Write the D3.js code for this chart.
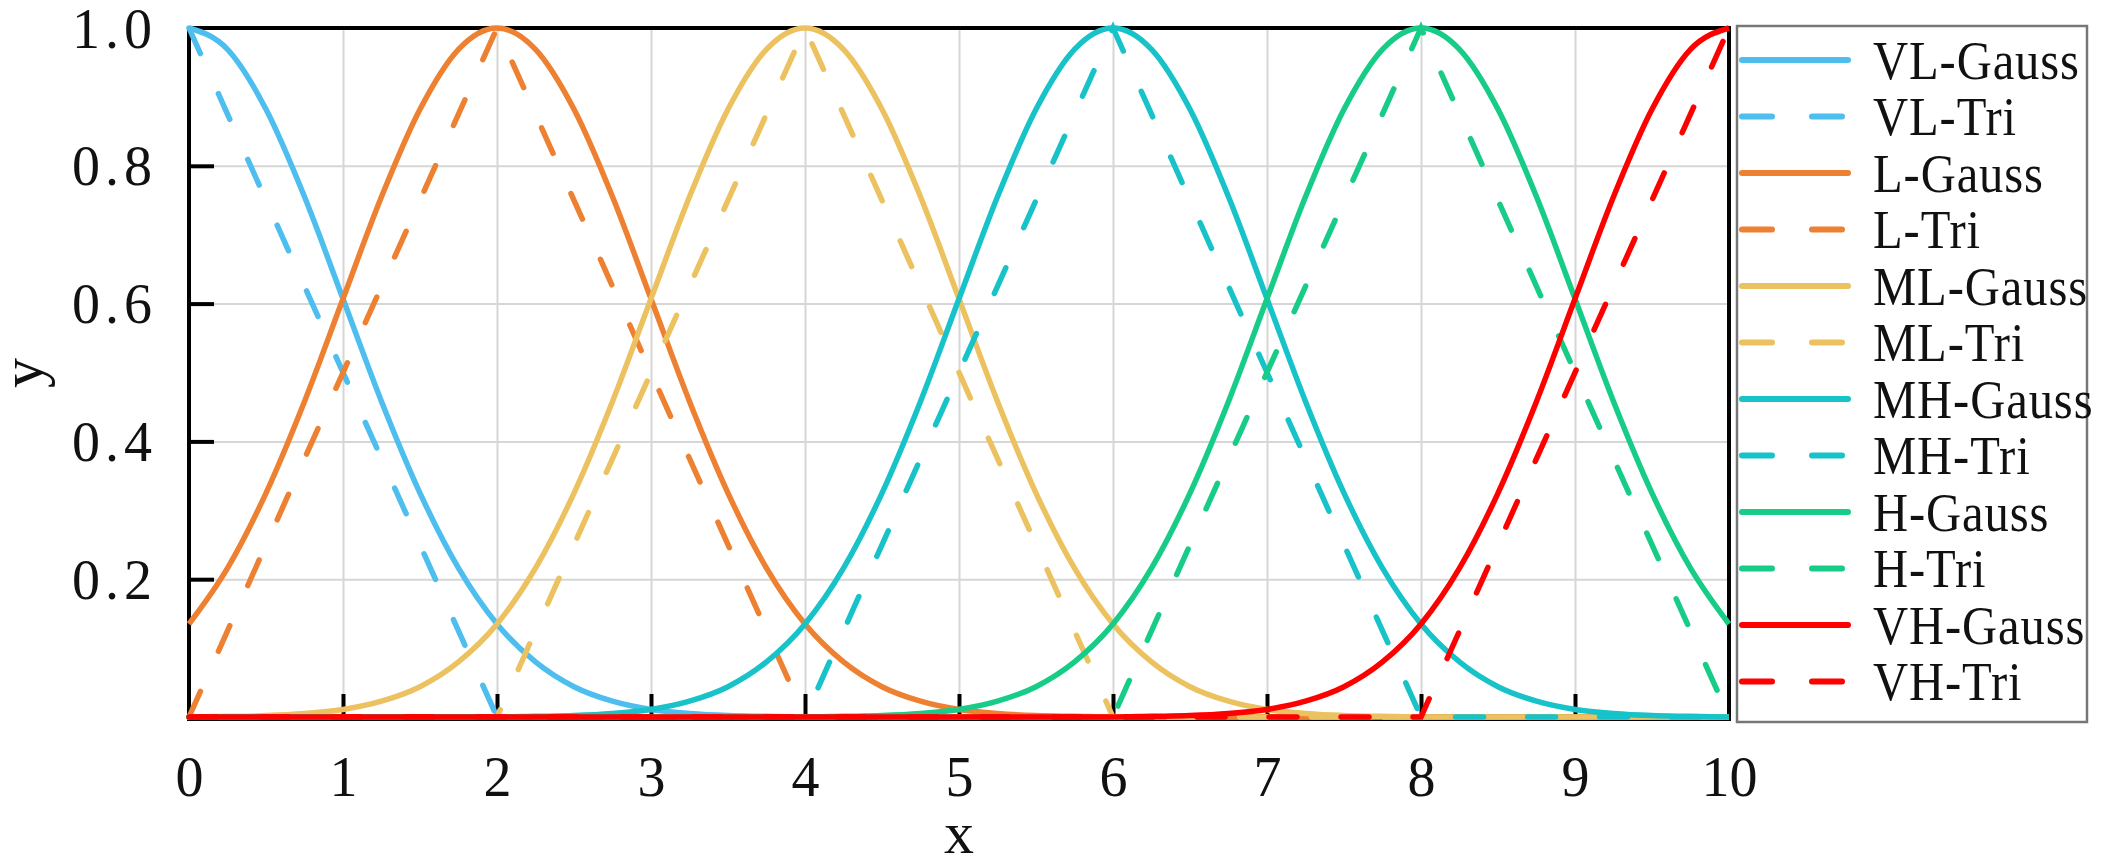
<!DOCTYPE html>
<html>
<head>
<meta charset="utf-8">
<script src="https://cdn.jsdelivr.net/npm/d3@7"></script>
<style>
  body { margin: 0; background: #fff; }
  text { font-family: "Liberation Serif", "DejaVu Serif", serif; fill: #111; }
</style>
</head>
<body>
<div id="chart"></div>
<script>
// Membership functions
// ===========================================

// sample positions along x for the smooth (gauss) curves
var xs = [0, 0.25, 0.5, 0.75, 1, 1.25, 1.5, 1.75, 2, 2.25, 2.5, 2.75, 3, 3.25, 3.5, 3.75,
          4, 4.25, 4.5, 4.75, 5, 5.25, 5.5, 5.75, 6, 6.25, 6.5, 6.75, 7, 7.25, 7.5, 7.75,
          8, 8.25, 8.5, 8.75, 9, 9.25, 9.5, 9.75, 10];

var vlGauss = [1, .969, .882, .755, .607, .458, .325, .216, .135, .080, .044, .023, .011, .005, .002, .001,
               0, 0, 0, 0, 0, 0, 0, 0, 0, 0, 0, 0, 0, 0, 0, 0,
               0, 0, 0, 0, 0, 0, 0, 0, 0];
var lGauss = [.135, .216, .325, .458, .607, .755, .882, .969, 1, .969, .882, .755, .607, .458, .325, .216,
              .135, .080, .044, .023, .011, .005, .002, .001, 0, 0, 0, 0, 0, 0, 0, 0,
              0, 0, 0, 0, 0, 0, 0, 0, 0];
var mlGauss = [0, .001, .002, .005, .011, .023, .044, .080, .135, .216, .325, .458, .607, .755, .882, .969,
               1, .969, .882, .755, .607, .458, .325, .216, .135, .080, .044, .023, .011, .005, .002, .001,
               0, 0, 0, 0, 0, 0, 0, 0, 0];
var mhGauss = [0, 0, 0, 0, 0, 0, 0, 0, 0, .001, .002, .005, .011, .023, .044, .080,
               .135, .216, .325, .458, .607, .755, .882, .969, 1, .969, .882, .755, .607, .458, .325, .216,
               .135, .080, .044, .023, .011, .005, .002, .001, 0];
var hGauss = [0, 0, 0, 0, 0, 0, 0, 0, 0, 0, 0, 0, 0, 0, 0, 0,
              0, .001, .002, .005, .011, .023, .044, .080, .135, .216, .325, .458, .607, .755, .882, .969,
              1, .969, .882, .755, .607, .458, .325, .216, .135];
var vhGauss = [0, 0, 0, 0, 0, 0, 0, 0, 0, 0, 0, 0, 0, 0, 0, 0,
               0, 0, 0, 0, 0, 0, 0, 0, 0, .001, .002, .005, .011, .023, .044, .080,
               .135, .216, .325, .458, .607, .755, .882, .969, 1];

// triangle corners: [x values], [y values]
var vlTriX = [0, 2, 10],          vlTriY = [1, 0, 0];
var lTriX  = [0, 2, 4, 10],       lTriY  = [0, 1, 0, 0];
var mlTriX = [0, 2, 4, 6, 10],    mlTriY = [0, 0, 1, 0, 0];
var mhTriX = [0, 4, 6, 8, 10],    mhTriY = [0, 0, 1, 0, 0];
var hTriX  = [0, 6, 8, 10],       hTriY  = [0, 0, 1, 0];
var vhTriX = [0, 8, 10],          vhTriY = [0, 0, 1];

var seriesNames = ["VL-Gauss", "VL-Tri", "L-Gauss", "L-Tri", "ML-Gauss", "ML-Tri",
                   "MH-Gauss", "MH-Tri", "H-Gauss", "H-Tri", "VH-Gauss", "VH-Tri"];

var xTicks = [0, 1, 2, 3, 4, 5, 6, 7, 8, 9, 10];
var yTicks = [0.2, 0.4, 0.6, 0.8, 1.0];

// colours per level
var colors = ["#4dbeee", "#ee8031", "#ecc261", "#17c3c8", "#17cc87", "#ff0000"];

// Setup
// ===========================================
var width = 2102, height = 866;
var plot = { left: 189, right: 1729, top: 28, bottom: 717 };

var svg = d3.select("#chart").append("svg")
  .attr("width", width)
  .attr("height", height);

svg.append("rect").attr("width", width).attr("height", height).attr("fill", "#fff");

var x = d3.scaleLinear().domain([0, 10]).range([plot.left, plot.right]);
var y = d3.scaleLinear().domain([0, 1]).range([plot.bottom, plot.top]);

// grid lines
var gx = svg.append("g")
  .attr("transform", `translate(0, ${plot.bottom})`)
  .call(d3.axisBottom(x).tickValues(xTicks).tickSize(-(plot.bottom - plot.top)).tickFormat(""));
var gy = svg.append("g")
  .attr("transform", `translate(${plot.left}, 0)`)
  .call(d3.axisLeft(y).tickValues([0.2, 0.4, 0.6, 0.8]).tickSize(-(plot.right - plot.left)).tickFormat(""));
[gx, gy].forEach(function(g) {
  g.select(".domain").remove();
  g.selectAll("line").attr("stroke", "#d6d6d6").attr("stroke-width", 2);
});

// axes with inward ticks
var xAxis = svg.append("g")
  .attr("transform", `translate(0, ${plot.bottom})`)
  .call(d3.axisBottom(x).tickValues(xTicks).tickSizeInner(-23).tickSizeOuter(0).tickPadding(39));
var yAxis = svg.append("g")
  .attr("transform", `translate(${plot.left}, 0)`)
  .call(d3.axisLeft(y).tickValues(yTicks).tickSizeInner(-25).tickSizeOuter(0).tickPadding(32)
    .tickFormat(d3.format(".1f")));
[xAxis, yAxis].forEach(function(g) {
  g.select(".domain").remove();
  g.selectAll("line").attr("stroke", "#000").attr("stroke-width", 4);
  g.selectAll("text")
    .attr("font-family", "Liberation Serif, serif")
    .attr("font-size", 56)
    .attr("fill", "#111");
});
xAxis.selectAll(".tick line").filter(function(d) { return d === 0 || d === 10; }).remove();
yAxis.selectAll(".tick line").filter(function(d) { return d === 1; }).remove();
yAxis.selectAll("text").attr("letter-spacing", 5).attr("dy", "0.34em");

// box around the plot
svg.append("rect")
  .attr("x", plot.left).attr("y", plot.top)
  .attr("width", plot.right - plot.left)
  .attr("height", plot.bottom - plot.top + 2)
  .attr("fill", "none")
  .attr("stroke", "#000")
  .attr("stroke-width", 4);

// axis titles
svg.append("text")
  .attr("x", x(5)).attr("y", 853)
  .attr("text-anchor", "middle")
  .attr("font-size", 60)
  .text("x");
svg.append("text")
  .attr("transform", "translate(42, 373) rotate(-90)")
  .attr("text-anchor", "middle")
  .attr("font-size", 60)
  .text("y");

// Curves
// ===========================================
var gaussSets = [vlGauss, lGauss, mlGauss, mhGauss, hGauss, vhGauss];
var triSets = [[vlTriX, vlTriY], [lTriX, lTriY], [mlTriX, mlTriY],
               [mhTriX, mhTriY], [hTriX, hTriY], [vhTriX, vhTriY]];

var smooth = d3.line()
  .x(function(d) { return x(d[0]); })
  .y(function(d) { return y(d[1]); })
  .curve(d3.curveMonotoneX);
var straight = d3.line()
  .x(function(d) { return x(d[0]); })
  .y(function(d) { return y(d[1]); });

var lines = svg.append("g");
gaussSets.forEach(function(vals, i) {
  var pts = xs.map(function(v, k) { return [v, vals[k]]; });
  lines.append("path")
    .attr("d", smooth(pts))
    .attr("fill", "none")
    .attr("stroke", colors[i])
    .attr("stroke-width", 5.5)
    .attr("stroke-linejoin", "round");

  var tx = triSets[i][0], ty = triSets[i][1];
  var tpts = tx.map(function(v, k) { return [v, ty[k]]; });
  lines.append("path")
    .attr("d", straight(tpts))
    .attr("fill", "none")
    .attr("stroke", colors[i])
    .attr("stroke-width", 5.5)
    .attr("stroke-linecap", "round")
    .attr("stroke-dasharray", "28 44");
});

// Legend
// ===========================================
var legend = svg.append("g");
legend.append("rect")
  .attr("x", 1737).attr("y", 26)
  .attr("width", 350).attr("height", 696)
  .attr("fill", "#fff")
  .attr("stroke", "#777")
  .attr("stroke-width", 2.5);

seriesNames.forEach(function(name, i) {
  var ly = 60 + i * 56.5;
  var dashed = i % 2 === 1;
  legend.append("line")
    .attr("x1", 1742).attr("x2", 1848)
    .attr("y1", ly).attr("y2", ly)
    .attr("stroke", colors[Math.floor(i / 2)])
    .attr("stroke-width", 6)
    .attr("stroke-linecap", "round")
    .attr("stroke-dasharray", dashed ? "30 40" : null);
  legend.append("text")
    .attr("transform", `translate(1873, ${ly}) scale(0.9, 1)`)
    .attr("dy", "0.35em")
    .attr("font-size", 54)
    .attr("letter-spacing", 1)
    .text(name);
});
</script>
</body>
</html>
